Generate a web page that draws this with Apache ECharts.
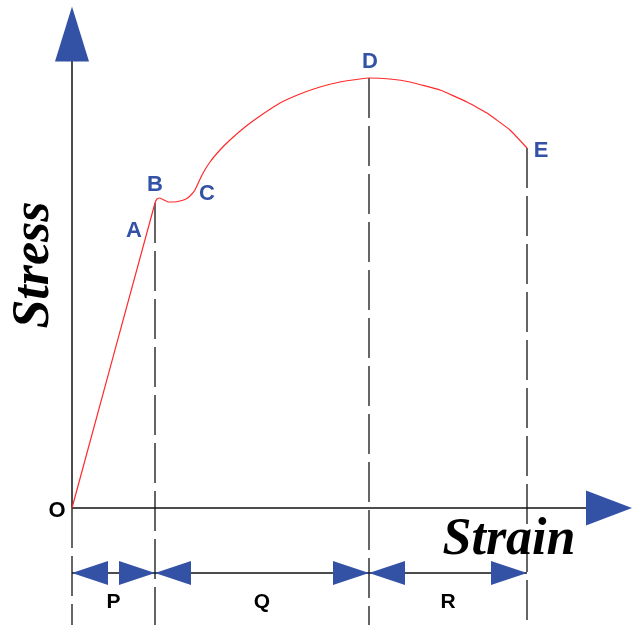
<!DOCTYPE html>
<html>
<head>
<meta charset="utf-8">
<script src="https://cdn.jsdelivr.net/npm/echarts@6/dist/echarts.min.js"></script>
<style>
  html, body { margin: 0; padding: 0; background: #fff; }
  #chart { width: 634px; height: 625px; }
</style>
</head>
<body>
<div id="chart"></div>
<script>
// stress-strain curve (arbitrary units)
const curveStrain = [0, 83, 85, 88, 92, 96, 102, 108, 114, 118, 123, 130, 138, 148, 158, 173, 188, 208, 228, 248, 268, 288, 297, 318, 338, 368, 395, 415, 438, 455];
const curveStress = [0, 305, 309, 310, 308, 306, 306, 307, 309, 312, 318, 333, 346, 358, 368, 381, 392, 405, 414, 421, 426, 429, 430, 429, 426, 418, 406, 395, 378, 360];

// labelled points on the curve
const keyNames = ['O', 'A', 'B', 'C', 'D', 'E'];
const keyStrain = [0, 76, 83, 123, 297, 455];
const keyStress = [0, 278, 305, 318, 430, 360];

// zones between the dashed lines
const zoneNames = ['P', 'Q', 'R'];
const zoneBounds = [0, 83, 297, 455];

// axis extent (arrow tips)
const strainMax = 560;
const stressMax = 501;

// chart frame
const xMin = -72, xMax = 562;
const yMin = -117, yMax = 508;
const dimLevel = -65;   // stress value of the dimension arrows row
const zoneLabelLevel = -94;

const BLUE = '#3351a5';

const myChart = echarts.init(document.getElementById('chart'));

// label offsets for the point letters
const keyOffsets = {
  O: [-15, 3], A: [-14, 1], B: [0, -18], C: [12, 4], D: [1, -16], E: [14, 3]
};

const curveData = curveStrain.map((s, i) => [s, curveStress[i]]);

// vertical dashed lines at the zone bounds
const dashSeries = zoneBounds.map((s) => {
  const k = keyStrain.indexOf(s);
  const top = keyStress[k];
  return {
    type: 'line',
    data: [[s, top], [s, yMin]],
    symbol: 'none',
    silent: true,
    lineStyle: { color: '#333', width: 1.5, type: [40, 8] },
    z: 1
  };
});

// dimension arrows (triangles pointing left and right)
const leftTips = zoneBounds.slice(0, -1).map((s) => [s, dimLevel]);
const rightTips = zoneBounds.slice(1).map((s) => [s, dimLevel]);

const arrowStyle = { color: BLUE, opacity: 1 };

const option = {
  animation: false,
  grid: { left: 0, right: 0, top: 0, bottom: 0 },
  xAxis: { type: 'value', min: xMin, max: xMax, show: false },
  yAxis: { type: 'value', min: yMin, max: yMax, show: false },
  series: [
    ...dashSeries,
    // axes
    {
      type: 'line',
      data: [[0, 0], [strainMax - 40, 0]],
      symbol: 'none',
      lineStyle: { color: '#111', width: 1.5 },
      z: 2
    },
    {
      type: 'line',
      data: [[0, 0], [0, stressMax - 45]],
      symbol: 'none',
      lineStyle: { color: '#111', width: 1.5 },
      z: 2
    },
    // dimension row line
    {
      type: 'line',
      data: [[zoneBounds[0], dimLevel], [zoneBounds[zoneBounds.length - 1], dimLevel]],
      symbol: 'none',
      lineStyle: { color: '#111', width: 1.5 },
      z: 2
    },
    // stress-strain curve
    {
      type: 'line',
      data: curveData,
      symbol: 'none',
      smooth: 0.1,
      lineStyle: { color: '#ff2a2a', width: 1.2 },
      z: 3
    },
    // axis arrow heads
    {
      type: 'scatter',
      data: [[0, stressMax]],
      symbol: 'triangle',
      symbolSize: [34, 55],
      symbolOffset: [0, 27],
      itemStyle: arrowStyle,
      z: 4
    },
    {
      type: 'scatter',
      data: [[strainMax, 0]],
      symbol: 'triangle',
      symbolSize: [35, 46],
      symbolRotate: -90,
      symbolOffset: [-23, 0],
      itemStyle: arrowStyle,
      z: 4
    },
    // dimension arrows
    {
      type: 'scatter',
      data: leftTips,
      symbol: 'triangle',
      symbolSize: [24, 36],
      symbolRotate: 90,
      symbolOffset: [18, 0],
      itemStyle: arrowStyle,
      z: 4
    },
    {
      type: 'scatter',
      data: rightTips,
      symbol: 'triangle',
      symbolSize: [24, 36],
      symbolRotate: -90,
      symbolOffset: [-18, 0],
      itemStyle: arrowStyle,
      z: 4
    },
    // point letters
    {
      type: 'scatter',
      symbolSize: 0,
      itemStyle: { opacity: 1 },
      data: keyNames.map((n, i) => ({
        value: [keyStrain[i], keyStress[i]],
        name: n,
        label: {
          offset: keyOffsets[n],
          color: n === 'O' ? '#000' : BLUE
        }
      })),
      label: {
        show: true,
        position: 'inside',
        formatter: (p) => p.name,
        fontFamily: 'Liberation Sans',
        fontWeight: 'bold',
        fontSize: 22
      },
      z: 5
    },
    // zone letters
    {
      type: 'scatter',
      symbolSize: 0,
      itemStyle: { opacity: 1 },
      data: zoneNames.map((n, i) => ({
        value: [(zoneBounds[i] + zoneBounds[i + 1]) / 2, zoneLabelLevel],
        name: n
      })),
      label: {
        show: true,
        position: 'inside',
        formatter: (p) => p.name,
        color: '#000',
        fontFamily: 'Liberation Sans',
        fontWeight: 'bold',
        fontSize: 21
      },
      z: 5
    },
    // axis titles
    {
      type: 'scatter',
      symbolSize: 0,
      itemStyle: { opacity: 1 },
      data: [
        { value: [437, -33], name: 'Strain', label: { rotate: 0 } },
        { value: [-37, 243], name: 'Stress', label: { rotate: 90 } }
      ],
      label: {
        show: true,
        position: 'inside',
        formatter: (p) => p.name,
        color: '#000',
        fontFamily: 'Liberation Serif',
        fontStyle: 'italic',
        fontWeight: 'bold',
        fontSize: 52
      },
      z: 5
    }
  ]
};

myChart.setOption(option);
</script>
</body>
</html>
